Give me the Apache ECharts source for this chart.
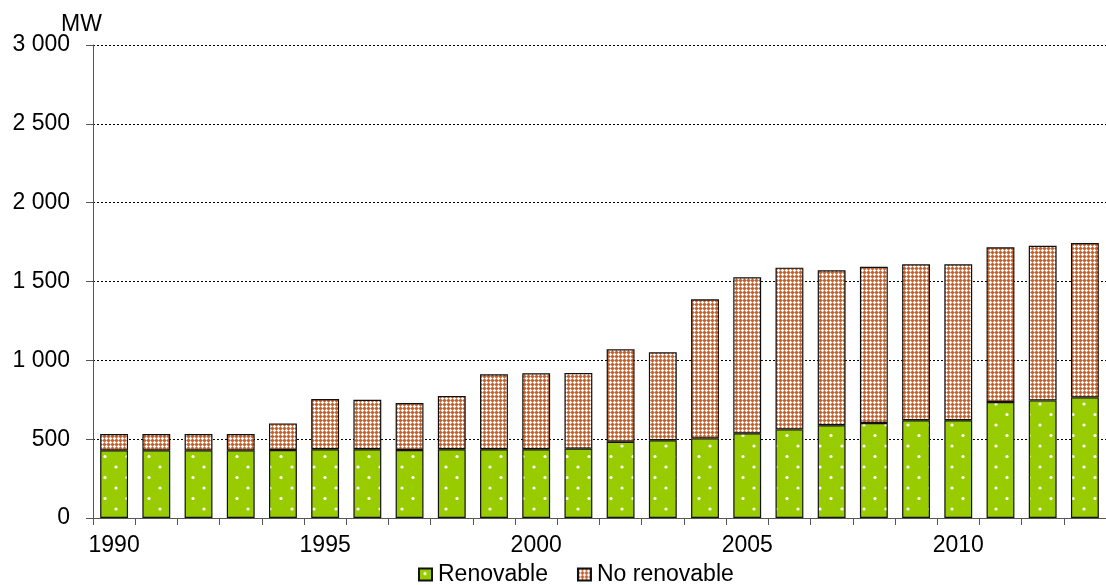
<!DOCTYPE html>
<html>
<head>
<meta charset="utf-8">
<script src="https://cdn.jsdelivr.net/npm/echarts@6/dist/echarts.min.js"></script>
<style>
html,body{margin:0;padding:0;background:#fff;}
#chart{width:1106px;height:585px;}
</style>
</head>
<body>
<div id="chart"></div>
<script>
const years = ['1990','1991','1992','1993','1994','1995','1996','1997','1998','1999','2000','2001','2002','2003','2004','2005','2006','2007','2008','2009','2010','2011','2012','2013'];
const renovable = [429,429,429,429,431,436,436,431,436,436,436,440,484,493,505,537,562,588,603,620,620,736,746,765];
const totals = [533,533,533,533,600,755,750,729,774,911,918,920,1070,1051,1387,1527,1588,1571,1594,1609,1609,1717,1727,1744];
const noRenovable = totals.map((t, i) => t - renovable[i]);
const yTicks = [0, 500, 1000, 1500, 2000, 2500, 3000];
const unitLabel = 'MW';

function greenPattern() {
  const c = document.createElement('canvas');
  c.width = 22; c.height = 21;
  const g = c.getContext('2d');
  g.fillStyle = '#99CC00';
  g.fillRect(0, 0, 22, 21);
  g.fillStyle = '#FFFFFF';
  g.beginPath(); g.arc(6, 5, 1.6, 0, Math.PI * 2); g.fill();
  g.beginPath(); g.arc(17, 15.5, 1.6, 0, Math.PI * 2); g.fill();
  return c;
}
function brownPattern() {
  const c = document.createElement('canvas');
  c.width = 4; c.height = 4;
  const g = c.getContext('2d');
  const px = (x, y, col) => { g.fillStyle = col; g.fillRect(x, y, 1, 1); };
  const brown = '#C2602F', mid = '#DA9670', white = '#FFFFFF';
  for (let y = 0; y < 4; y++) for (let x = 0; x < 4; x++) px(x, y, mid);
  [[0,0],[1,0],[3,0],[0,1],[0,3]].forEach(p => px(p[0], p[1], brown));
  [[2,2],[1,2],[3,2],[2,1],[2,3]].forEach(p => px(p[0], p[1], white));
  return c;
}

const chart = echarts.init(document.getElementById('chart'), null, {renderer: 'canvas'});
const fontFamily = 'Liberation Sans, Arial, sans-serif';
chart.setOption({
  animation: false,
  backgroundColor: '#fff',
  grid: {left: 93, top: 45, height: 473, width: 1021.7, containLabel: false},
  graphic: [{
    type: 'text', left: 61, top: 13,
    style: {text: unitLabel, font: '23px Liberation Sans, Arial, sans-serif', fill: '#000'}
  }],
  legend: {
    top: 563,
    left: 418,
    padding: 0,
    itemWidth: 13,
    itemHeight: 12,
    itemGap: 29,
    icon: 'rect',
    textStyle: {fontFamily: fontFamily, fontSize: 23, color: '#000', padding: [0, 0, 0, 1]},
    data: ['Renovable', 'No renovable']
  },
  xAxis: {
    type: 'category',
    data: years,
    axisLine: {lineStyle: {color: '#555', width: 1}},
    axisTick: {show: true, interval: 0, alignWithLabel: false, length: 7, lineStyle: {color: '#555'}},
    axisLabel: {interval: 4, fontFamily: fontFamily, fontSize: 23, color: '#000', margin: 16},
    splitLine: {show: false}
  },
  yAxis: {
    type: 'value',
    min: 0,
    max: 3000,
    interval: 500,
    axisLine: {show: true, lineStyle: {color: '#555', width: 1}},
    axisTick: {show: true, length: 7, lineStyle: {color: '#555'}},
    axisLabel: {
      fontFamily: fontFamily, fontSize: 23, color: '#000', margin: 23,
      formatter: v => yTicks.includes(v) ? String(v).replace(/\B(?=(\d{3})+(?!\d))/g, ' ') : ''
    },
    splitLine: {show: true, lineStyle: {color: '#000', type: [2, 2], width: 1}}
  },
  series: [
    {
      name: 'Renovable',
      type: 'bar',
      stack: 'total',
      data: renovable,
      barCategoryGap: '34%',
      itemStyle: {color: {image: greenPattern(), repeat: 'repeat'}, borderColor: '#111', borderWidth: 1.2}
    },
    {
      name: 'No renovable',
      type: 'bar',
      stack: 'total',
      data: noRenovable,
      barCategoryGap: '34%',
      itemStyle: {color: {image: brownPattern(), repeat: 'repeat'}, borderColor: '#111', borderWidth: 1.2}
    }
  ]
});
</script>
</body>
</html>
